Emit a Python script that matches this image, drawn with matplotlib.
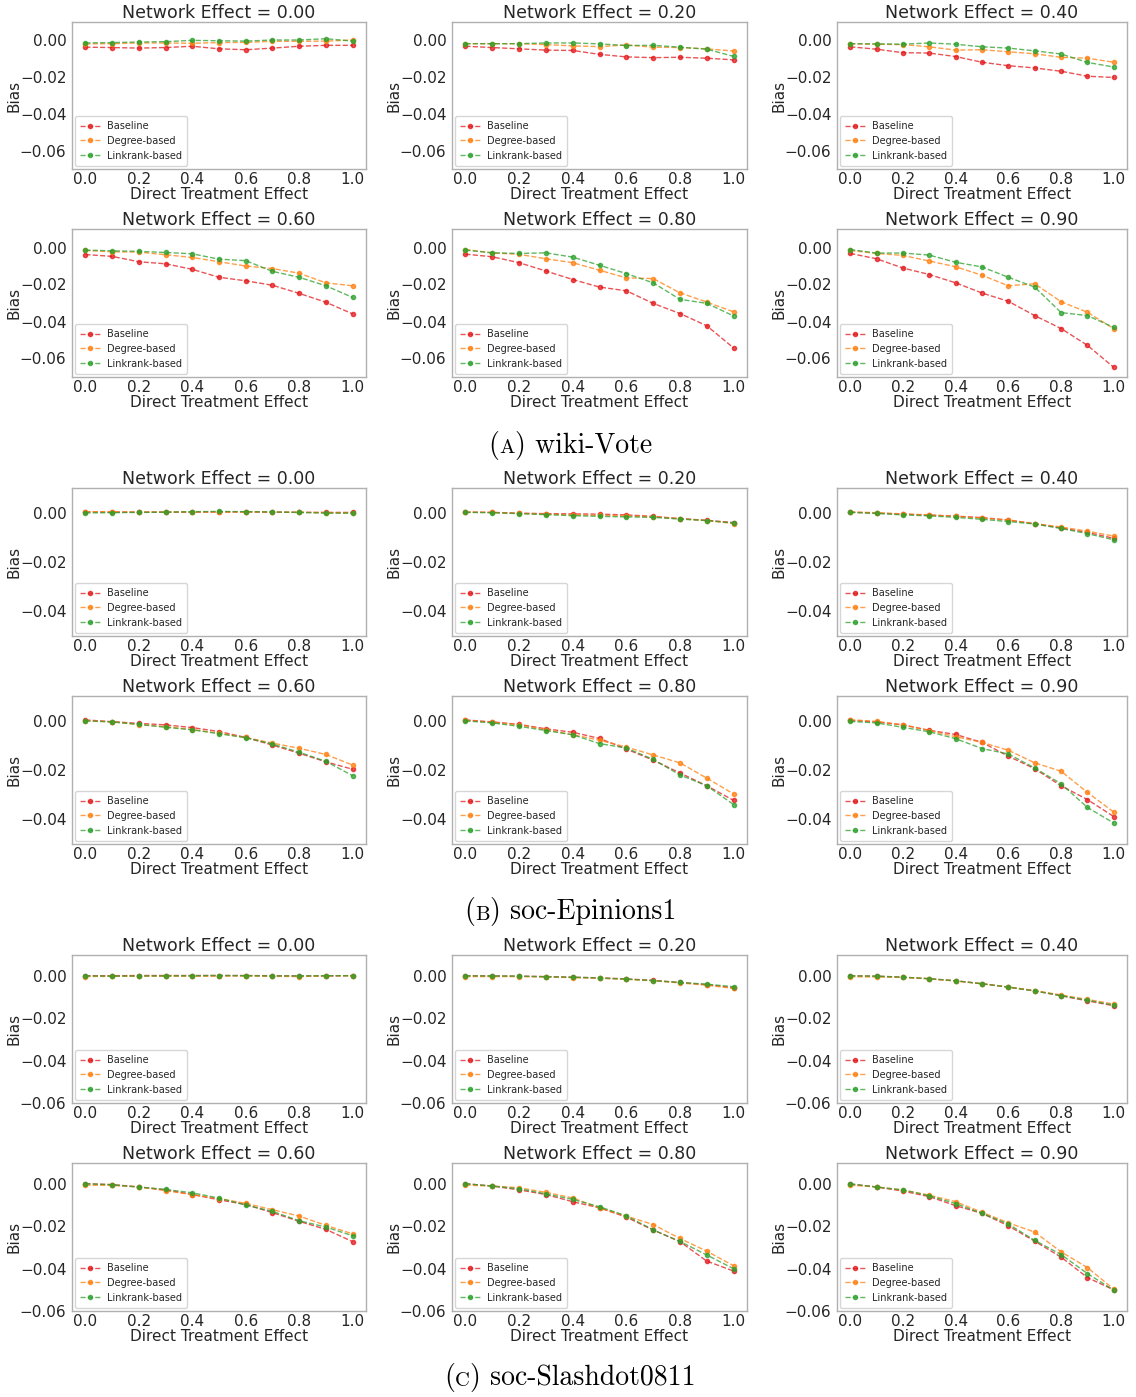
import matplotlib
matplotlib.use("Agg")
import matplotlib.pyplot as plt
from matplotlib.offsetbox import TextArea, HPacker, AnnotationBbox

# ---------------- data ----------------
direct_effects = [0.0, 0.1, 0.2, 0.3, 0.4, 0.5, 0.6, 0.7, 0.8, 0.9, 1.0]
network_effects = [0.00, 0.20, 0.40, 0.60, 0.80, 0.90]
series_labels = ["Baseline", "Degree-based", "Linkrank-based"]
datasets = ["wiki-Vote", "soc-Epinions1", "soc-Slashdot0811"]
caption_letters = ["A", "B", "C"]

# wiki-Vote (rows: network effect 0.00, 0.20, 0.40, 0.60, 0.80, 0.90)
wiki_baseline = [
    [-0.0037, -0.0039, -0.0042, -0.0039, -0.0032, -0.0046, -0.0051, -0.0042, -0.0032, -0.0027, -0.0027],
    [-0.0032, -0.0039, -0.0046, -0.0053, -0.0055, -0.0076, -0.0090, -0.0094, -0.0092, -0.0097, -0.0106],
    [-0.0035, -0.0048, -0.0067, -0.0069, -0.0088, -0.0119, -0.0138, -0.0150, -0.0168, -0.0195, -0.0202],
    [-0.0038, -0.0048, -0.0077, -0.0088, -0.0118, -0.0161, -0.0180, -0.0204, -0.0248, -0.0296, -0.0359],
    [-0.0036, -0.0050, -0.0082, -0.0127, -0.0173, -0.0214, -0.0234, -0.0302, -0.0357, -0.0423, -0.0543],
    [-0.0032, -0.0061, -0.0111, -0.0146, -0.0191, -0.0246, -0.0291, -0.0368, -0.0438, -0.0529, -0.0648],
]
wiki_degree = [
    [-0.0019, -0.0018, -0.0014, -0.0014, -0.0016, -0.0012, -0.0011, -0.0005, -0.0005, -0.0004, 0.0002],
    [-0.0018, -0.0018, -0.0018, -0.0023, -0.0030, -0.0034, -0.0025, -0.0037, -0.0039, -0.0046, -0.0058],
    [-0.0019, -0.0021, -0.0023, -0.0035, -0.0053, -0.0051, -0.0062, -0.0073, -0.0092, -0.0097, -0.0119],
    [-0.0016, -0.0023, -0.0025, -0.0039, -0.0054, -0.0077, -0.0100, -0.0114, -0.0139, -0.0191, -0.0207],
    [-0.0011, -0.0029, -0.0037, -0.0061, -0.0082, -0.0123, -0.0164, -0.0168, -0.0245, -0.0295, -0.0348],
    [-0.0016, -0.0032, -0.0043, -0.0073, -0.0104, -0.0150, -0.0207, -0.0196, -0.0293, -0.0350, -0.0439],
]
wiki_linkrank = [
    [-0.0014, -0.0012, -0.0009, -0.0007, 0.0000, -0.0002, -0.0004, 0.0002, 0.0002, 0.0009, -0.0004],
    [-0.0018, -0.0018, -0.0018, -0.0014, -0.0014, -0.0019, -0.0028, -0.0027, -0.0037, -0.0048, -0.0087],
    [-0.0018, -0.0019, -0.0021, -0.0014, -0.0021, -0.0035, -0.0042, -0.0057, -0.0074, -0.0120, -0.0145],
    [-0.0014, -0.0018, -0.0021, -0.0027, -0.0034, -0.0063, -0.0071, -0.0129, -0.0161, -0.0207, -0.0270],
    [-0.0014, -0.0029, -0.0032, -0.0029, -0.0052, -0.0096, -0.0141, -0.0191, -0.0280, -0.0302, -0.0370],
    [-0.0011, -0.0030, -0.0030, -0.0041, -0.0080, -0.0105, -0.0161, -0.0214, -0.0352, -0.0368, -0.0432],
]

# soc-Epinions1
epin_baseline = [
    [0.0003, 0.0002, 0.0002, 0.0002, 0.0002, 0.0003, 0.0003, 0.0002, 0.0001, 0.0001, 0.0001],
    [0.0002, 0.0001, -0.0002, -0.0004, -0.0005, -0.0006, -0.0009, -0.0015, -0.0024, -0.0031, -0.0040],
    [0.0002, -0.0002, -0.0006, -0.0010, -0.0014, -0.0020, -0.0030, -0.0045, -0.0062, -0.0080, -0.0104],
    [0.0003, -0.0004, -0.0011, -0.0017, -0.0028, -0.0044, -0.0068, -0.0099, -0.0132, -0.0167, -0.0197],
    [0.0003, -0.0005, -0.0015, -0.0033, -0.0047, -0.0072, -0.0115, -0.0160, -0.0212, -0.0264, -0.0323],
    [0.0001, -0.0005, -0.0017, -0.0039, -0.0056, -0.0088, -0.0144, -0.0195, -0.0264, -0.0320, -0.0389],
]
epin_degree = [
    [0.0004, 0.0004, 0.0003, 0.0003, 0.0003, 0.0002, 0.0003, 0.0003, 0.0002, 0.0000, -0.0001],
    [0.0003, 0.0001, -0.0003, -0.0006, -0.0009, -0.0011, -0.0013, -0.0017, -0.0025, -0.0032, -0.0044],
    [0.0003, 0.0000, -0.0005, -0.0009, -0.0015, -0.0022, -0.0030, -0.0044, -0.0058, -0.0075, -0.0095],
    [0.0000, -0.0005, -0.0016, -0.0024, -0.0036, -0.0051, -0.0068, -0.0091, -0.0112, -0.0137, -0.0180],
    [0.0001, -0.0007, -0.0017, -0.0037, -0.0057, -0.0079, -0.0107, -0.0139, -0.0171, -0.0233, -0.0297],
    [0.0004, -0.0003, -0.0017, -0.0040, -0.0065, -0.0088, -0.0120, -0.0171, -0.0205, -0.0291, -0.0371],
]
epin_linkrank = [
    [-0.0001, 0.0000, 0.0001, 0.0002, 0.0004, 0.0005, 0.0004, 0.0003, 0.0001, -0.0002, -0.0002],
    [0.0001, 0.0000, -0.0004, -0.0008, -0.0012, -0.0015, -0.0017, -0.0019, -0.0026, -0.0032, -0.0042],
    [0.0001, -0.0003, -0.0009, -0.0013, -0.0019, -0.0027, -0.0036, -0.0046, -0.0064, -0.0085, -0.0110],
    [-0.0001, -0.0005, -0.0015, -0.0027, -0.0037, -0.0053, -0.0069, -0.0095, -0.0128, -0.0165, -0.0223],
    [-0.0001, -0.0009, -0.0023, -0.0040, -0.0057, -0.0093, -0.0111, -0.0157, -0.0220, -0.0264, -0.0340],
    [-0.0003, -0.0009, -0.0027, -0.0045, -0.0073, -0.0113, -0.0135, -0.0192, -0.0256, -0.0352, -0.0415],
]

# soc-Slashdot0811
slash_baseline = [
    [0.0002, 0.0002, 0.0003, 0.0003, 0.0003, 0.0003, 0.0003, 0.0002, 0.0001, 0.0001, 0.0002],
    [0.0002, 0.0001, 0.0000, -0.0002, -0.0005, -0.0008, -0.0013, -0.0020, -0.0030, -0.0040, -0.0055],
    [0.0002, 0.0000, -0.0005, -0.0012, -0.0022, -0.0036, -0.0052, -0.0070, -0.0093, -0.0117, -0.0140],
    [0.0002, -0.0002, -0.0013, -0.0027, -0.0049, -0.0074, -0.0096, -0.0135, -0.0176, -0.0214, -0.0272],
    [0.0002, -0.0009, -0.0027, -0.0049, -0.0083, -0.0112, -0.0156, -0.0217, -0.0272, -0.0364, -0.0411],
    [0.0000, -0.0013, -0.0033, -0.0059, -0.0102, -0.0138, -0.0197, -0.0270, -0.0345, -0.0442, -0.0500],
]
slash_degree = [
    [-0.0002, -0.0001, -0.0001, 0.0000, -0.0001, 0.0000, 0.0001, -0.0001, -0.0002, 0.0001, 0.0003],
    [-0.0002, -0.0002, -0.0002, -0.0004, -0.0007, -0.0010, -0.0015, -0.0022, -0.0032, -0.0043, -0.0058],
    [-0.0003, -0.0004, -0.0006, -0.0013, -0.0023, -0.0036, -0.0051, -0.0068, -0.0089, -0.0110, -0.0132],
    [-0.0005, -0.0006, -0.0013, -0.0031, -0.0050, -0.0068, -0.0091, -0.0121, -0.0151, -0.0195, -0.0235],
    [-0.0005, -0.0009, -0.0017, -0.0039, -0.0065, -0.0113, -0.0151, -0.0191, -0.0257, -0.0317, -0.0386],
    [-0.0005, -0.0013, -0.0028, -0.0052, -0.0083, -0.0133, -0.0183, -0.0227, -0.0320, -0.0395, -0.0497],
]
slash_linkrank = [
    [0.0001, 0.0000, 0.0001, 0.0001, 0.0002, 0.0003, 0.0002, 0.0001, 0.0001, 0.0002, 0.0002],
    [0.0001, 0.0001, 0.0000, -0.0003, -0.0005, -0.0009, -0.0014, -0.0021, -0.0030, -0.0038, -0.0050],
    [0.0001, 0.0000, -0.0005, -0.0012, -0.0022, -0.0036, -0.0052, -0.0070, -0.0092, -0.0114, -0.0137],
    [0.0002, -0.0003, -0.0014, -0.0025, -0.0041, -0.0066, -0.0099, -0.0129, -0.0173, -0.0203, -0.0244],
    [0.0002, -0.0009, -0.0022, -0.0046, -0.0072, -0.0107, -0.0150, -0.0216, -0.0271, -0.0335, -0.0400],
    [0.0002, -0.0014, -0.0027, -0.0055, -0.0092, -0.0138, -0.0189, -0.0266, -0.0333, -0.0423, -0.0502],
]

group_series = [
    (wiki_baseline, wiki_degree, wiki_linkrank),
    (epin_baseline, epin_degree, epin_linkrank),
    (slash_baseline, slash_degree, slash_linkrank),
]
group_ylims = [(-0.07, 0.01), (-0.05, 0.01), (-0.06, 0.01)]
group_yticks = [[0.0, -0.02, -0.04, -0.06], [0.0, -0.02, -0.04], [0.0, -0.02, -0.04, -0.06]]
xticks = [0.0, 0.2, 0.4, 0.6, 0.8, 1.0]

# ---------------- style / layout ----------------
colors = ["#e31a1c", "#ff7f0e", "#2ca02c"]
TXT = "#262626"
W, H = 1136, 1397
fig = plt.figure(figsize=(W / 100, H / 100), dpi=100)

col_px = [(72, 366), (452, 747), (837, 1127)]
row_px = [[(22, 169), (229, 377)], [(488, 636), (696, 844)], [(955, 1103), (1163, 1311)]]
caption_y = [446, 912, 1378]

for g in range(3):
    series = group_series[g]
    for r in range(2):
        top, bot = row_px[g][r]
        for c in range(3):
            left, right = col_px[c]
            k = r * 3 + c
            ax = fig.add_axes([left / W, 1 - bot / H, (right - left) / W, (bot - top) / H])
            for s in range(3):
                ax.plot(direct_effects, series[s][k], linestyle="--", marker="o",
                        markersize=3, linewidth=1.0, color=colors[s], alpha=0.75,
                        label=series_labels[s])
            ax.set_ylim(*group_ylims[g])
            ax.set_yticks(group_yticks[g])
            ax.set_xticks(xticks)
            ax.set_title(f"Network Effect = {network_effects[k]:.2f}", fontsize=12.5,
                         color=TXT, pad=3)
            ax.set_xlabel("Direct Treatment Effect", fontsize=11, color=TXT, labelpad=0.5)
            ax.set_ylabel("Bias", fontsize=11, color=TXT, labelpad=-1)
            ax.tick_params(axis="x", length=0, labelsize=11, colors=TXT, pad=2)
            ax.tick_params(axis="y", length=0, labelsize=11, colors=TXT, pad=4)
            for sp in ax.spines.values():
                sp.set_color("#b0b0b0")
                sp.set_linewidth(1.0)
            leg = ax.legend(loc="lower left", fontsize=7, borderaxespad=0.35,
                            handlelength=2.0, handletextpad=0.8, labelspacing=0.5,
                            borderpad=0.5)
            for t in leg.get_texts():
                t.set_color(TXT)

    # caption like "(A) wiki-Vote" with small-caps letter
    fs = 20
    tp = dict(fontsize=fs, family="cmr10", color="black")
    tps = dict(fontsize=fs * 0.74, family="cmr10", color="black")
    box = HPacker(children=[TextArea("(", textprops=tp),
                            TextArea(caption_letters[g], textprops=tps),
                            TextArea(") " + datasets[g], textprops=tp)],
                  align="baseline", pad=0, sep=0)
    ab = AnnotationBbox(box, (570 / W, 1 - caption_y[g] / H), xycoords="figure fraction",
                        frameon=False, box_alignment=(0.5, 0.5))
    fig.add_artist(ab)

fig.savefig("out.png", dpi=100)
